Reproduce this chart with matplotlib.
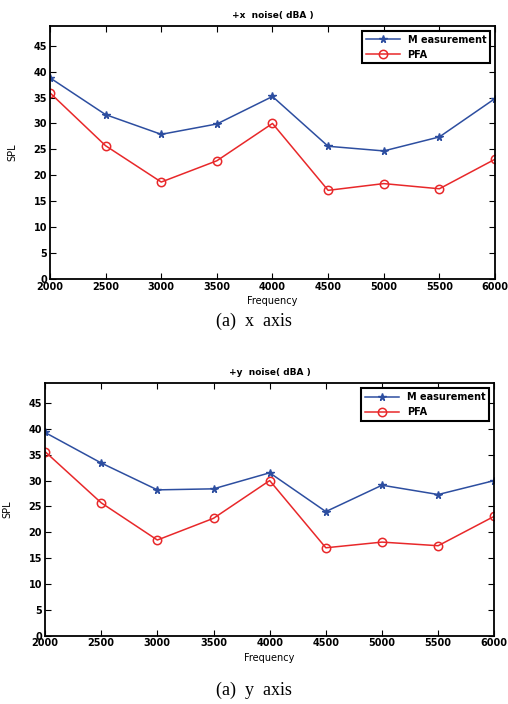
import numpy as np
import matplotlib as mpl
import matplotlib.pyplot as plt

mpl.rcParams['font.family'] = 'DejaVu Sans'
mpl.rcParams['font.weight'] = 'bold'
mpl.rcParams['axes.unicode_minus'] = False

# data
freq = [2000, 2500, 3000, 3500, 4000, 4500, 5000, 5500, 6000]
x_meas = [38.8, 31.7, 27.9, 29.9, 35.2, 25.6, 24.7, 27.4, 34.8]
x_pfa = [35.9, 25.7, 18.7, 22.8, 30.0, 17.1, 18.4, 17.4, 23.1]
y_meas = [39.3, 33.4, 28.2, 28.4, 31.5, 24.0, 29.1, 27.3, 30.0]
y_pfa = [35.6, 25.7, 18.5, 22.7, 30.0, 17.0, 18.1, 17.4, 23.1]

yticks = list(range(0, 50, 5))
blue = '#2d4ea0'
red = '#e8282a'

fig = plt.figure(figsize=(5.08, 7.04), dpi=100)


def panel(rect, meas, pfa, title, caption, cap_y):
    ax = fig.add_axes(rect)
    ax.plot(freq, meas, color=blue, marker='*', markersize=5.5, lw=1.1,
            label='M easurement')
    ax.plot(freq, pfa, color=red, marker='o', markersize=6, lw=1.1,
            markerfacecolor='none', markeredgewidth=1.1, label='PFA')
    ax.set_xlim(2000, 6000)
    ax.set_ylim(0, 48.8)
    ax.set_xticks(freq)
    ax.set_yticks(yticks)
    ax.tick_params(direction='in', top=True, right=True, labelsize=7,
                   length=4, width=0.8, pad=2)
    for s in ax.spines.values():
        s.set_linewidth(1.3)
    ax.set_title(title, fontsize=6.5, fontweight='bold', pad=6)
    ax.set_xlabel('Frequency', fontsize=7, labelpad=3)
    ax.set_ylabel('SPL', fontsize=7, labelpad=12)
    leg = ax.legend(loc='upper right', fontsize=7, fancybox=False,
                    edgecolor='black', framealpha=1, borderaxespad=0.5,
                    handlelength=3.5, labelspacing=0.5)
    leg.get_frame().set_linewidth(1.5)
    fig.text(0.5, cap_y, caption, ha='center', va='center',
             family='Liberation Serif', fontweight='normal', fontsize=13)
    return ax


panel([0.0984, 0.6037, 0.876, 0.3594], x_meas, x_pfa,
      '+x  noise( dBA )', '(a)  x  axis', 0.543)
panel([0.0886, 0.097, 0.8845, 0.3585], y_meas, y_pfa,
      '+y  noise( dBA )', '(a)  y  axis', 0.02)

fig.savefig('out.png', dpi=100)
